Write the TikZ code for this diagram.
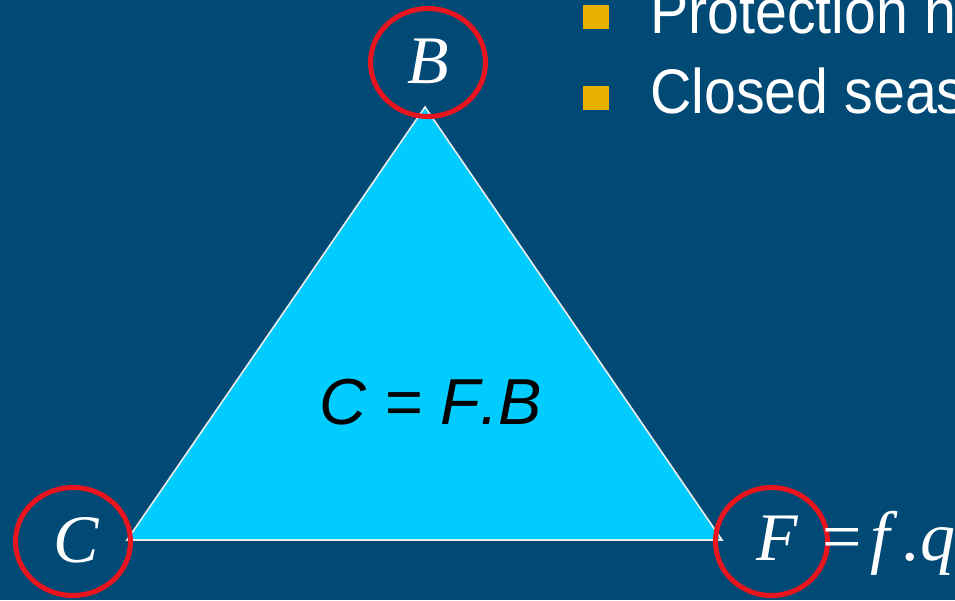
\documentclass[tikz,border=0pt]{standalone}
\usepackage{fontspec}
\usepackage{graphicx}
\setmainfont{Liberation Serif}
\newfontfamily\sansf[Kerning=Off]{Liberation Sans}
\usetikzlibrary{shapes.geometric}
\definecolor{bgblue}{RGB}{1,74,118}
\definecolor{tricyan}{RGB}{0,204,255}
\definecolor{ringred}{RGB}{232,20,30}
\definecolor{bulletgold}{RGB}{232,176,0}
\tikzset{
  ring/.style={draw=ringred, line width=5pt, ellipse, inner sep=0pt},
  vlabel/.style={anchor=base, text=white, inner sep=0pt, font=\fontsize{68}{80}\selectfont\itshape},
  bullettext/.style={anchor=base west, text=white, inner sep=0pt, font=\sansf\fontsize{63}{75}\selectfont},
  bulletsq/.style={fill=bulletgold, minimum width=26pt, minimum height=24pt, inner sep=0pt, anchor=center},
}
\begin{document}
\begin{tikzpicture}[x=1pt,y=-1pt]
\useasboundingbox (0,0) rectangle (955,600);
\clip (0,0) rectangle (955,600);
\fill[bgblue] (0,0) rectangle (955,600);
% triangle
\coordinate (tB) at (425,107);
\coordinate (tC) at (127,540);
\coordinate (tF) at (722,540);
\filldraw[fill=tricyan, draw=white!85!gray, line width=1.6pt, line join=miter] (tB) -- (tC) -- (tF) -- cycle;
\node[anchor=base, inner sep=0pt, font=\sansf\itshape\fontsize{65}{76}\selectfont] (eq) at (431,424) {C = F.B};
% rings
\node[ring, minimum width=115pt, minimum height=108pt] (rB) at (428,62.5) {};
\node[ring, minimum width=115pt, minimum height=108pt] (rC) at (73,541.5) {};
\node[ring, minimum width=112pt, minimum height=108pt] (rF) at (771.5,541.5) {};
% vertex labels
\node[vlabel] (lB) at (428,83) {B};
\node[vlabel] (lC) at (76,562) {C};
\node[vlabel] (lF) at (777,560) {F};
\node[anchor=base west, text=white, inner sep=0pt, font=\fontsize{70}{80}\selectfont] (fq) at (822,560) {=\hspace{9pt}\textit{f}\hspace{3pt}.\hspace{2pt}\textit{q}};
% bullets
\node[bulletsq] (s1) at (596,16.5) {};
\node[bulletsq] (s2) at (596,97.5) {};
\node[bullettext] (t1) at (650,33) {\scalebox{0.91}[1]{Protection h}};
\node[bullettext] (t2) at (650,113) {\scalebox{0.91}[1]{Closed seas}};
\end{tikzpicture}
\end{document}
